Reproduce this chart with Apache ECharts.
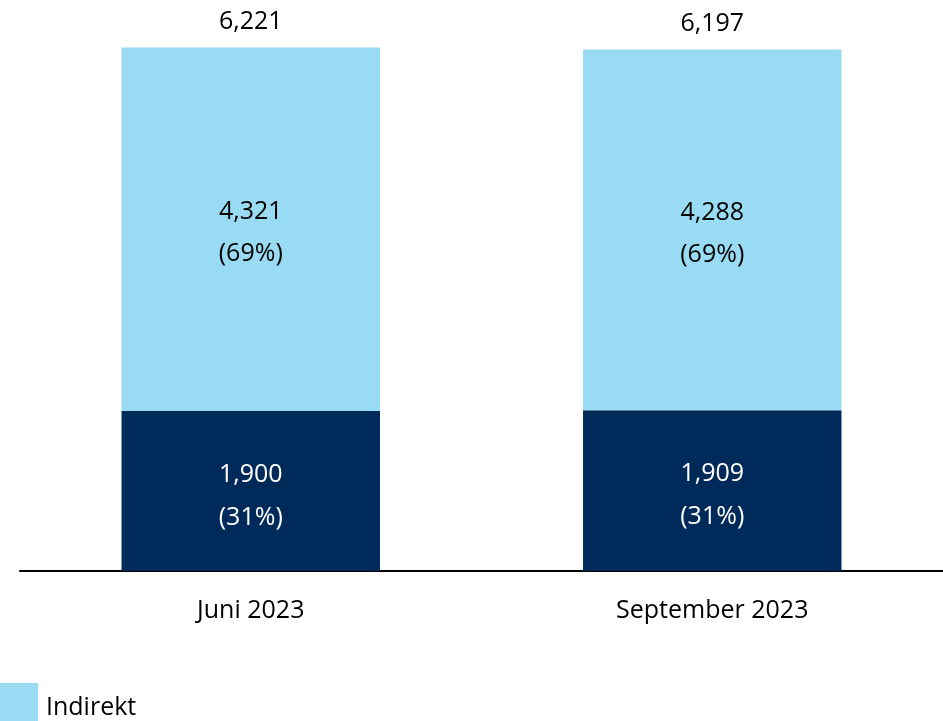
<!DOCTYPE html>
<html>
<head>
<meta charset="utf-8">
<script src="https://cdn.jsdelivr.net/npm/echarts@6/dist/echarts.min.js"></script>
<style>
  html, body { margin: 0; padding: 0; background: #fff; }
  #chart { width: 943px; height: 721px; }
</style>
</head>
<body>
<div id="chart"></div>
<script>
var categories = ['Juni 2023', 'September 2023'];
var direkt = [1900, 1909];
var indirekt = [4321, 4288];
var direktShare = [31, 31];
var indirektShare = [69, 69];
var totals = [6221, 6197];

var font = '"Open Sans", "Noto Sans", sans-serif';

function fmt(v) {
    return v.toLocaleString('en-US');
}

var chart = echarts.init(document.getElementById('chart'));
var option = {
    animation: false,
    textStyle: { fontFamily: font },
    grid: { left: 20, right: 0, top: 24, bottom: 150 },
    legend: {
        orient: 'vertical',
        left: 0,
        top: 683,
        height: 300,
        padding: 0,
        icon: 'rect',
        itemWidth: 38,
        itemHeight: 50,
        itemGap: 12,
        data: ['Indirekt', 'Direkt'],
        textStyle: { color: '#000', fontSize: 25, fontFamily: font, padding: [0, 0, 0, 3] }
    },
    xAxis: {
        type: 'category',
        data: categories,
        axisLine: { lineStyle: { color: '#000', width: 2 } },
        axisTick: { show: false },
        axisLabel: { color: '#000', fontSize: 25, margin: 27, fontFamily: font }
    },
    yAxis: {
        type: 'value',
        min: 0,
        max: 6500,
        show: false
    },
    series: [{
        name: 'Direkt',
        type: 'bar',
        stack: 'total',
        barWidth: '56%',
        itemStyle: { color: '#002A5A' },
        label: {
            show: true,
            position: 'inside',
            offset: [0, 5],
            color: '#fff',
            fontSize: 25,
            lineHeight: 43,
            fontFamily: font,
            formatter: function (p) {
                return fmt(p.value) + '\n(' + direktShare[p.dataIndex] + '%)';
            }
        },
        data: direkt
    }, {
        name: 'Indirekt',
        type: 'bar',
        stack: 'total',
        itemStyle: { color: '#98DBF2' },
        label: {
            show: true,
            position: 'inside',
            offset: [0, 4],
            color: '#000',
            fontSize: 25,
            lineHeight: 42,
            fontFamily: font,
            formatter: function (p) {
                return fmt(p.value) + '\n(' + indirektShare[p.dataIndex] + '%)';
            }
        },
        data: indirekt
    }, {
        name: 'Gesamt',
        type: 'bar',
        stack: 'total',
        itemStyle: { color: 'transparent' },
        label: {
            show: true,
            position: 'top',
            distance: 13,
            color: '#000',
            fontSize: 25,
            fontFamily: font,
            formatter: function (p) {
                return fmt(totals[p.dataIndex]);
            }
        },
        data: [0, 0]
    }]
};
chart.setOption(option);
</script>
</body>
</html>
